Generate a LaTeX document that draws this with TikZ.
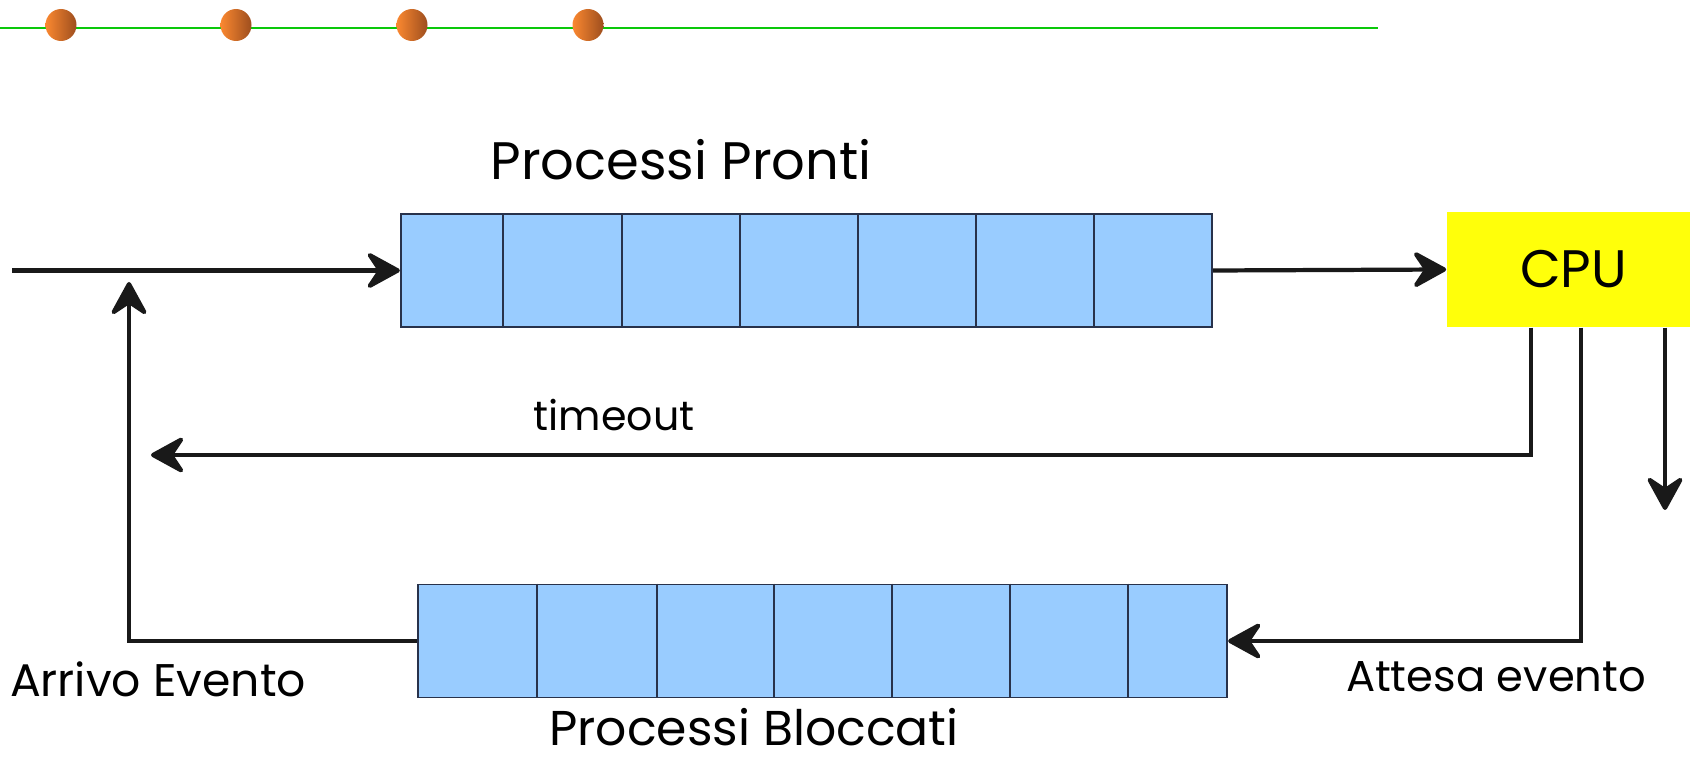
\documentclass[tikz,border=0pt]{standalone}
\usepackage{fontspec}
\setmainfont{Poppins}
\usetikzlibrary{arrows.meta}
\usetikzlibrary{positioning}

\definecolor{celeste}{RGB}{153,204,255}
\definecolor{bordocoda}{RGB}{40,50,75}
\definecolor{gialloCPU}{RGB}{255,255,10}
\definecolor{verderiga}{RGB}{10,200,10}
\definecolor{arancio}{RGB}{250,136,48}
\definecolor{marrone}{RGB}{158,78,30}

\tikzset{
	coda/.style={draw=bordocoda, fill=celeste, line width=0.5pt, minimum height=1.13cm, inner sep=0pt},
	cella/.style={draw=bordocoda, line width=0.6pt},
	freccia/.style={draw=black!90, line width=1.2pt, -{Stealth[length=11pt,width=12pt,inset=4pt,round]}},
	scritta/.style={inner sep=0pt, font=\fontsize{13}{15}\selectfont}
}

\begin{document}
\begin{tikzpicture}[x=0.01cm, y=-0.01cm]
	\useasboundingbox (0,0) rectangle (1690,764);

	% riga verde con i pallini
	\draw[verderiga, line width=0.75pt] (0,28) -- (1378,28);
	\foreach \px in {61,236,412,588}
		\shade[left color=arancio, right color=marrone] (\px,25) ellipse (15.5 and 16);

	% code e CPU
	\node[coda, minimum width=8.11cm] (pronti) at (806.5,270.5) {};
	\foreach \dx in {503,622,740,858,976,1094}
		\draw[cella] (\dx,0 |- pronti.north) -- (\dx,0 |- pronti.south);
	\node[coda, minimum width=8.09cm] (bloccati) at (822.5,641) {};
	\foreach \dx in {537,657,774,892,1010,1128}
		\draw[cella] (\dx,0 |- bloccati.north) -- (\dx,0 |- bloccati.south);
	\node[fill=gialloCPU, minimum width=2.53cm, minimum height=1.15cm, inner sep=0pt, font=\fontsize{15}{17}\selectfont] (cpu) at (1573.5,269.5) {CPU};

	% scritte
	\node[scritta, font=\fontsize{15}{18}\selectfont] (tPronti) at (681,160) {Processi Pronti};
	\node[scritta, font=\fontsize{13.9}{16}\selectfont, text depth=0pt, anchor=base] (tBloccati) at (754,746) {Processi Bloccati};
	\node[scritta, font=\fontsize{11.7}{14}\selectfont] (tTimeout) at (614,415) {timeout};
	\node[scritta] (tArrivo) at (158,679) {Arrivo Evento};
	\node[scritta, font=\fontsize{12.3}{15}\selectfont] (tAttesa) at (1496,677) {Attesa evento};

	% punti liberi delle frecce
	\coordinate (ingresso) at (12,270.5);
	\coordinate (ritorno) at (151,455);
	\coordinate (arrivo) at (129,282);
	\coordinate (fine) at (1665,510);
	\coordinate (uscitaT) at (cpu.south -| 1531,0);
	\coordinate (uscitaA) at (cpu.south -| 1581,0);
	\coordinate (uscitaD) at (cpu.south -| 1665,0);

	% frecce
	\draw[freccia] (ingresso) -- (pronti.west);
	\draw[freccia] (pronti.east) -- (cpu.west);
	\draw[freccia] (uscitaT) |- (ritorno);
	\draw[freccia] (uscitaA) |- (bloccati.east);
	\draw[freccia] (uscitaD) -- (fine);
	\draw[freccia] (bloccati.west) -| (arrivo);
\end{tikzpicture}
\end{document}
